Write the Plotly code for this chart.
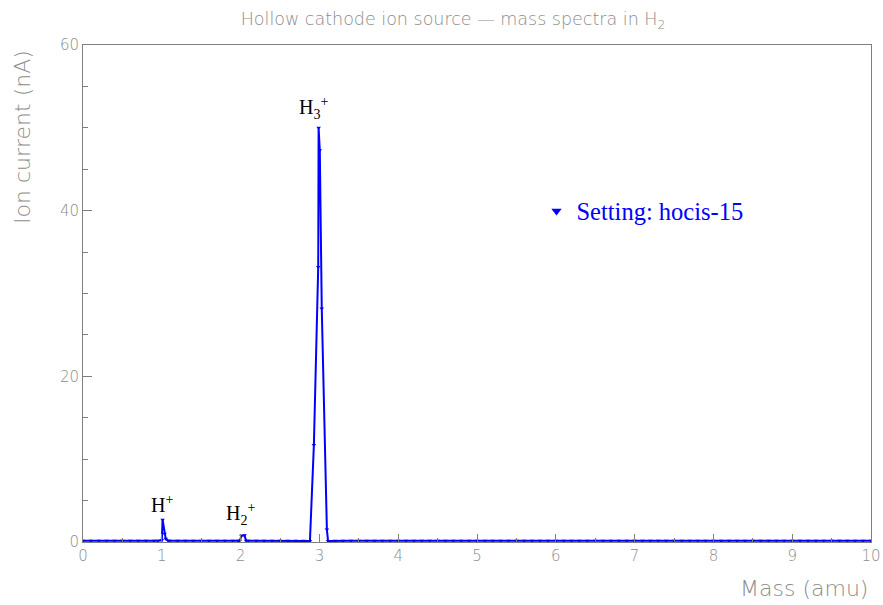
import plotly.graph_objects as go

# ---- data ----
mass = [
    0.0, 0.1, 0.2, 0.3, 0.4, 0.5, 0.6, 0.7, 0.8, 0.9, 0.95,
    1.0, 1.01, 1.035, 1.05, 1.08,
    1.1, 1.2, 1.3, 1.4, 1.5, 1.6, 1.7, 1.8, 1.9, 1.97,
    1.99, 2.01, 2.05, 2.07,
    2.1, 2.2, 2.3, 2.4, 2.5, 2.6, 2.7, 2.8, 2.88,
    2.93, 2.985, 2.99, 3.005, 3.03, 3.095, 3.11,
    3.2, 3.3, 3.4, 3.5, 3.6, 3.7, 3.8, 3.9, 4.0,
    4.1, 4.2, 4.3, 4.4, 4.5, 4.6, 4.7, 4.8, 4.9, 5.0,
    5.1, 5.2, 5.3, 5.4, 5.5, 5.6, 5.7, 5.8, 5.9, 6.0,
    6.1, 6.2, 6.3, 6.4, 6.5, 6.6, 6.7, 6.8, 6.9, 7.0,
    7.1, 7.2, 7.3, 7.4, 7.5, 7.6, 7.7, 7.8, 7.9, 8.0,
    8.1, 8.2, 8.3, 8.4, 8.5, 8.6, 8.7, 8.8, 8.9, 9.0,
    9.1, 9.2, 9.3, 9.4, 9.5, 9.6, 9.7, 9.8, 9.9, 10.0,
]
current = [
    0.15, 0.14, 0.15, 0.16, 0.14, 0.15, 0.15, 0.14, 0.16, 0.15, 0.15,
    0.2, 2.7, 1.0, 0.4, 0.15,
    0.15, 0.14, 0.16, 0.15, 0.15, 0.14, 0.15, 0.16, 0.15, 0.15,
    0.15, 0.75, 0.8, 0.15,
    0.15, 0.14, 0.15, 0.16, 0.15, 0.14, 0.15, 0.15, 0.12,
    11.7, 33.2, 50.0, 47.3, 28.2, 1.5, 0.12,
    0.15, 0.14, 0.16, 0.15, 0.15, 0.14, 0.15, 0.16, 0.15,
    0.14, 0.15, 0.15, 0.16, 0.15, 0.14, 0.15, 0.15, 0.16, 0.15,
    0.15, 0.14, 0.15, 0.16, 0.15, 0.14, 0.15, 0.15, 0.16, 0.15,
    0.14, 0.15, 0.16, 0.15, 0.15, 0.14, 0.15, 0.16, 0.15, 0.15,
    0.15, 0.14, 0.15, 0.16, 0.15, 0.14, 0.15, 0.15, 0.16, 0.15,
    0.14, 0.15, 0.16, 0.15, 0.15, 0.14, 0.15, 0.16, 0.15, 0.15,
    0.15, 0.14, 0.15, 0.16, 0.15, 0.14, 0.15, 0.15, 0.16, 0.15,
]
peak_labels = ["H<sup>+</sup>", "H<sub>2</sub><sup>+</sup>", "H<sub>3</sub><sup>+</sup>"]
peak_label_x = [1.0, 2.0, 2.93]
peak_label_y = [4.6, 3.4, 52.4]

series_name = "Setting: hocis-15"
title_text = "Hollow cathode ion source \u2014 mass spectra in H<sub>2</sub>"
x_title = "Mass (amu)"
y_title = "Ion current (nA)"

GRAY = "#8c8c8c"
AXGRAY = "#7f7f7f"
SANS = "'DejaVu Sans', sans-serif"
SERIF = "'Liberation Serif', 'Times New Roman', serif"

fig = go.Figure()
fig.add_trace(go.Scatter(
    x=mass, y=current, mode="lines+markers", name=series_name, showlegend=False,
    line=dict(color="#0000ff", width=2),
    marker=dict(symbol="triangle-down", size=4, color="#0000ff"),
))
# legend entry (marker only, as in the reference)
fig.add_trace(go.Scatter(
    x=[None], y=[None], mode="markers", name=series_name, showlegend=True,
    marker=dict(symbol="triangle-down", size=9, color="#0000ff"),
))

for t, x, y in zip(peak_labels, peak_label_x, peak_label_y):
    fig.add_annotation(x=x, y=y, xref="x", yref="y", text=t, showarrow=False,
                       font=dict(family=SERIF, size=20, color="black"))

fig.add_annotation(x=1.0, y=0, xref="paper", yref="paper", xshift=-1, yshift=-32,
                   text=x_title, showarrow=False, xanchor="right", yanchor="top",
                   font=dict(family=SANS, size=22, color=GRAY, weight=200))
fig.add_annotation(x=0, y=1.0, xref="paper", yref="paper", xshift=-61, yshift=-3,
                   text=y_title, showarrow=False, textangle=-90,
                   xanchor="center", yanchor="top",
                   font=dict(family=SANS, size=22, color=GRAY, weight=200))

fig.update_layout(
    width=883, height=605,
    margin=dict(l=83, r=12, t=45, b=63),
    paper_bgcolor="white", plot_bgcolor="white",
    title=dict(text=title_text, x=0.513, xanchor="center", y=0.968, yanchor="middle",
               font=dict(family=SANS, size=17.5, color=GRAY, weight=200)),
    showlegend=True,
    legend=dict(x=0.5755, y=0.666, xanchor="left", yanchor="middle",
                bgcolor="rgba(0,0,0,0)",
                font=dict(family=SERIF, size=24.5, color="#0000ff")),
    xaxis=dict(range=[0, 10], dtick=1, tick0=0, ticks="inside", ticklen=8,
               tickcolor=AXGRAY, showline=True, linecolor=AXGRAY, linewidth=1,
               mirror=True, showgrid=False, zeroline=False, automargin=False,
               tickfont=dict(family=SANS, size=15, color=GRAY, weight=200),
               minor=dict(dtick=0.5, ticks="inside", ticklen=4, tickcolor=AXGRAY)),
    yaxis=dict(range=[0, 60], dtick=20, tick0=0, ticks="inside", ticklen=9,
               tickcolor=AXGRAY, showline=True, linecolor=AXGRAY, linewidth=1,
               mirror=True, showgrid=False, zeroline=False, automargin=False,
               tickfont=dict(family=SANS, size=15, color=GRAY, weight=200),
               minor=dict(dtick=5, ticks="inside", ticklen=5, tickcolor=AXGRAY)),
)

fig.write_html("out.html")
